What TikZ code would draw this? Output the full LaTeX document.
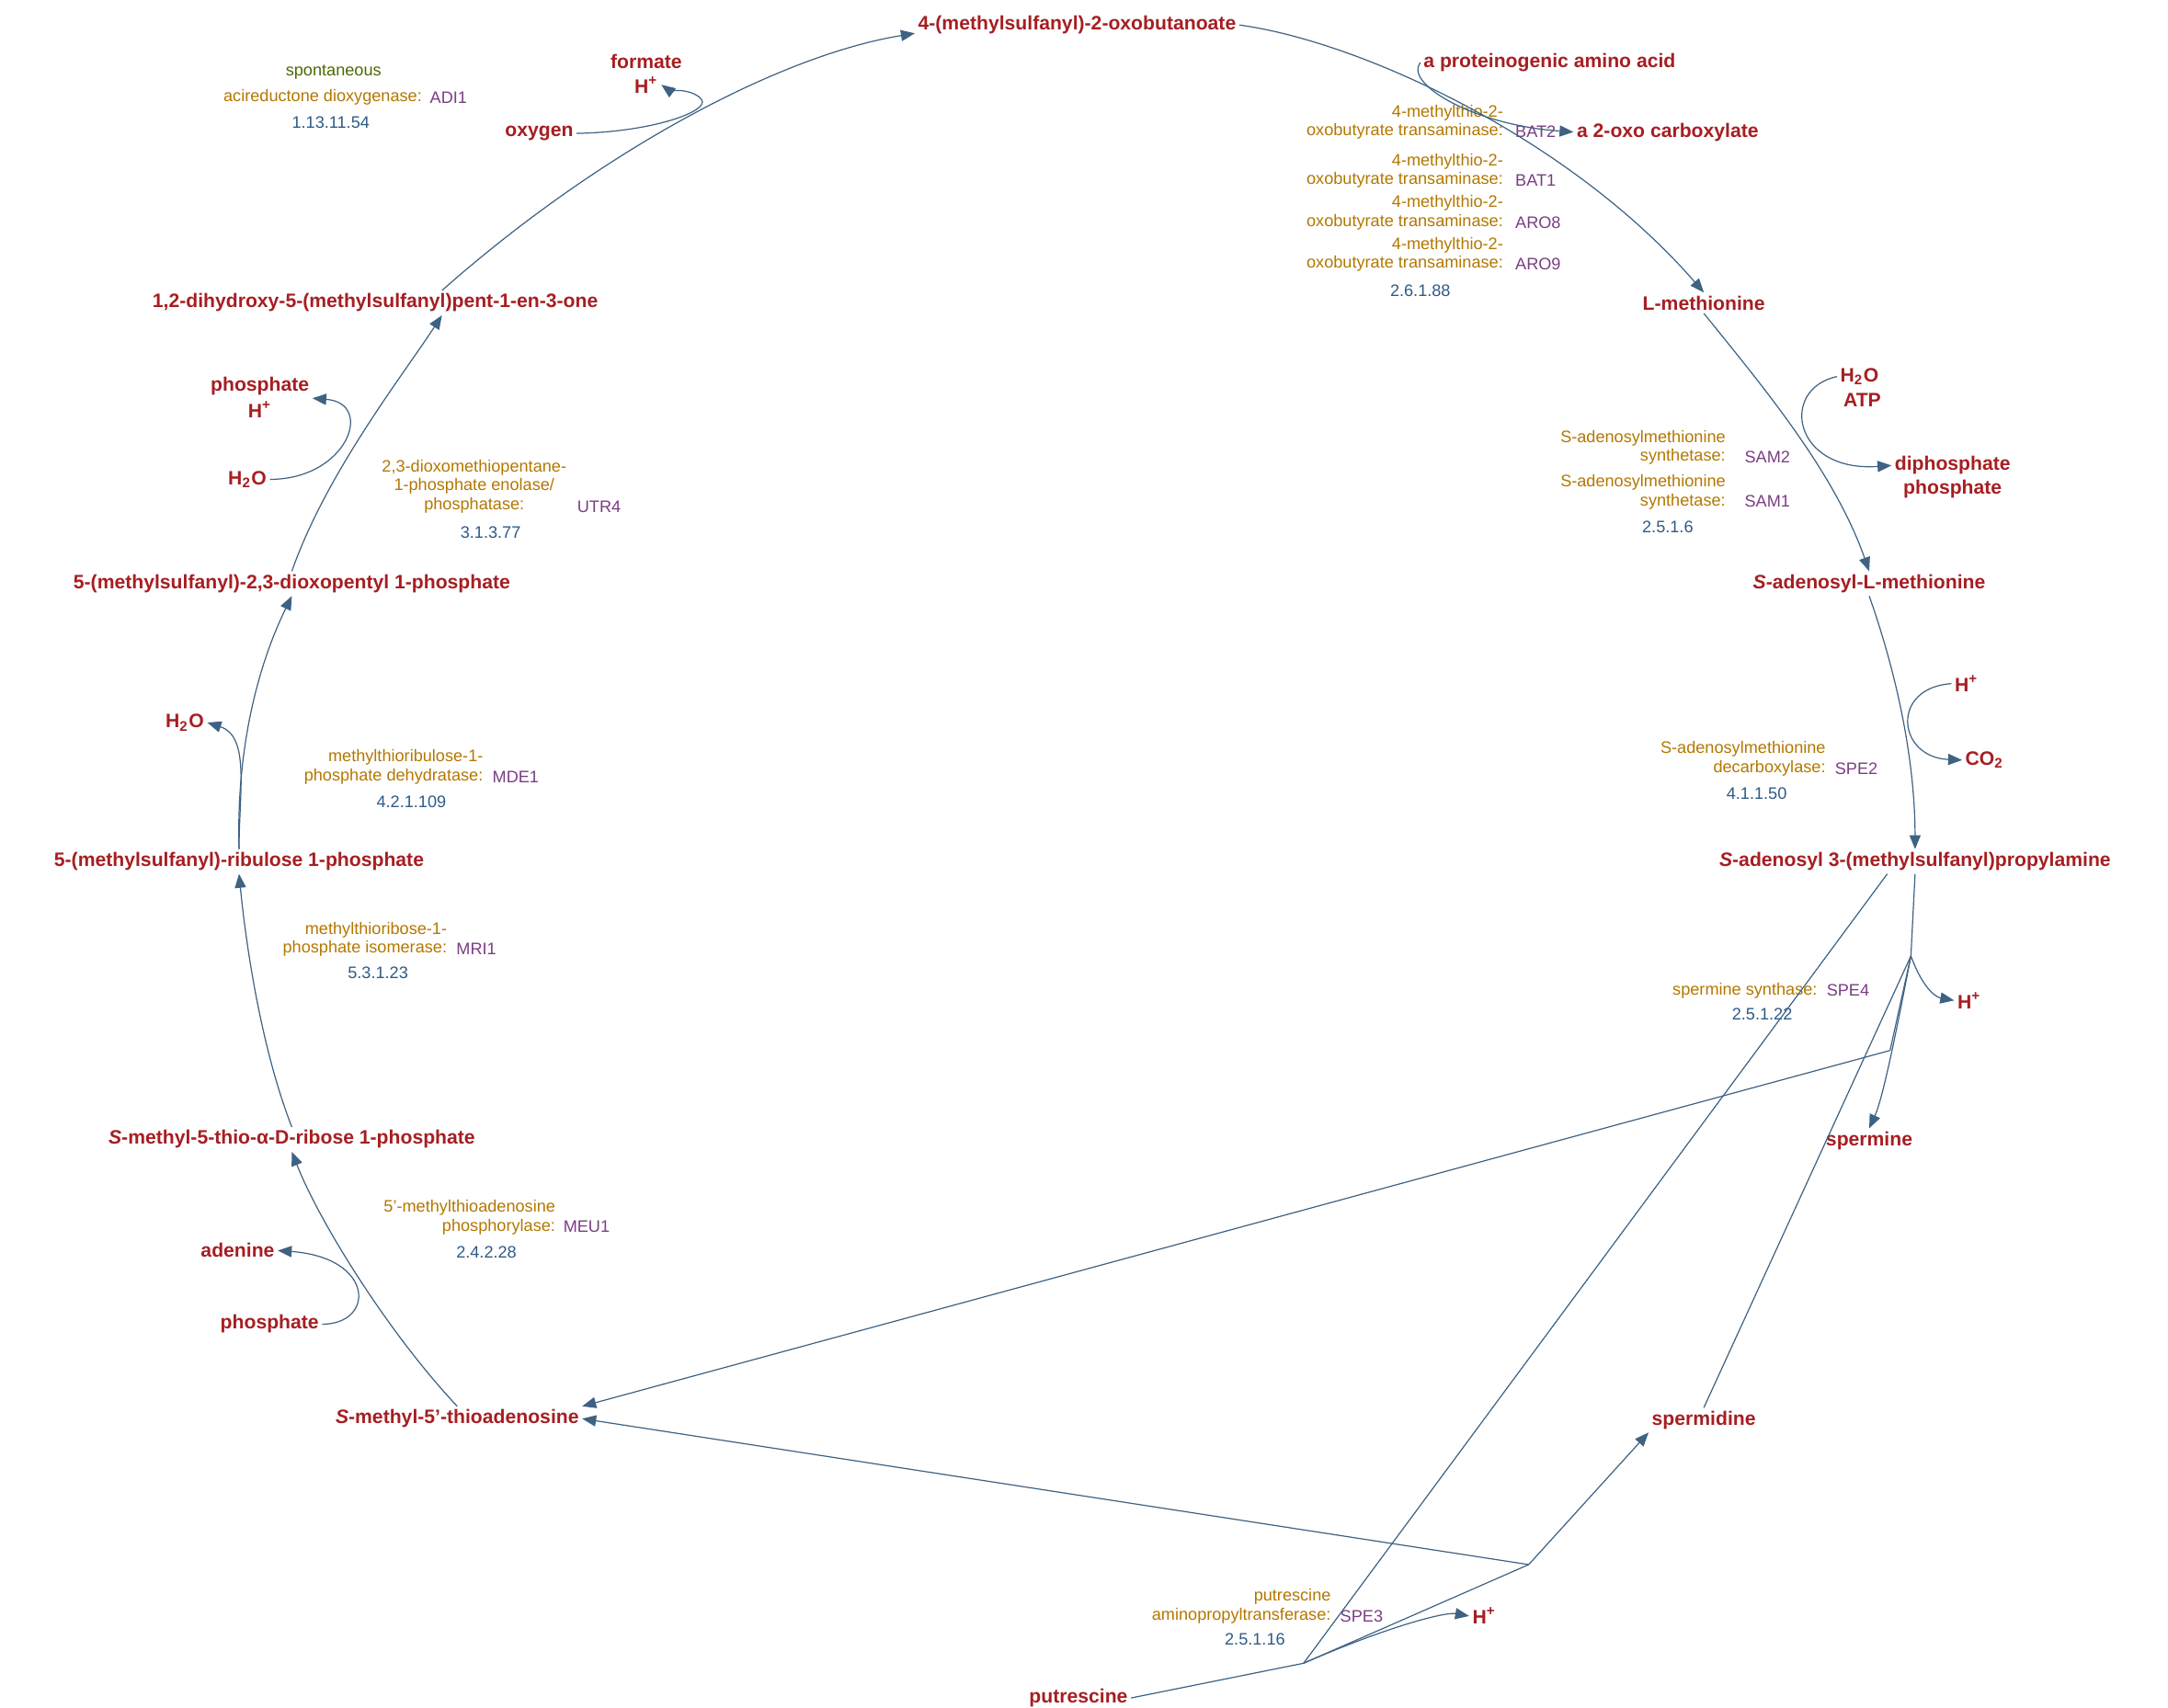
\documentclass[tikz,border=0pt]{standalone}
\usepackage{fontspec}
\setmainfont{Liberation Sans}
\usetikzlibrary{arrows.meta}
\definecolor{cpd}{HTML}{A61E22}
\definecolor{enz}{HTML}{B37700}
\definecolor{gene}{HTML}{7A3D84}
\definecolor{ec}{HTML}{2E5A85}
\definecolor{edge}{HTML}{3E6283}
\definecolor{spont}{HTML}{4A6A00}
\begin{document}
\begin{tikzpicture}[x=0.5pt,y=-0.5pt,
  c/.style={font=\bfseries\fontsize{7}{8}\selectfont,text=cpd,inner sep=1pt},
  e/.style={font=\fontsize{6}{6.8}\selectfont,text=enz,align=right,inner sep=0pt},
  g/.style={font=\fontsize{6}{6.8}\selectfont,text=gene,inner sep=0pt,anchor=west},
  n/.style={font=\fontsize{6}{6.8}\selectfont,text=ec,inner sep=0pt},
  r/.style={draw=edge,line width=0.4pt},
  a/.style={r,-{Triangle[length=5pt,width=4pt]}}]
\useasboundingbox (0,0) rectangle (1560,1229);
% compounds
\node[c] (mob) at (775,18) {4-(methylsulfanyl)-2-oxobutanoate};
\node[c] (aaa) at (1115,45) {a proteinogenic amino acid};
\node[c] (oxo) at (1200,95) {a 2-oxo carboxylate};
\node[c] (met) at (1226,218) {L-methionine};
\node[c] (h2oa) at (1338,271) {H\textsubscript{2}O};
\node[c] (atp) at (1340,288) {ATP};
\node[c] (dip) at (1405,335) {diphosphate};
\node[c] (pia) at (1405,352) {phosphate};
\node[c] (sam) at (1345,420) {\textit{S}-adenosyl-L-methionine};
\node[c] (hpb) at (1415,492) {H\textsuperscript{+}};
\node[c] (co2) at (1428,547) {CO\textsubscript{2}};
\node[c] (dsam) at (1378,620) {\textit{S}-adenosyl 3-(methylsulfanyl)propylamine};
\node[c] (hpc) at (1417,720) {H\textsuperscript{+}};
\node[c] (spm) at (1345,821) {spermine};
\node[c] (spd) at (1226,1022) {spermidine};
\node[c] (hpd) at (1068,1163) {H\textsuperscript{+}};
\node[c] (put) at (776,1222) {putrescine};
\node[c] (mta) at (329,1021) {\textit{S}-methyl-5'-thioadenosine};
\node[c] (ade) at (171,900) {adenine};
\node[c] (pib) at (194,953) {phosphate};
\node[c] (mtr) at (210,820) {\textit{S}-methyl-5-thio-α-D-ribose 1-phosphate};
\node[c] (mtru) at (172,620) {5-(methylsulfanyl)-ribulose 1-phosphate};
\node[c] (h2ob) at (133,520) {H\textsubscript{2}O};
\node[c] (dk) at (210,420) {5-(methylsulfanyl)-2,3-dioxopentyl 1-phosphate};
\node[c] (h2oc) at (178,345) {H\textsubscript{2}O};
\node[c] (pic) at (187,278) {phosphate};
\node[c] (hpe) at (187,295) {H\textsuperscript{+}};
\node[c] (dhk) at (270,218) {1,2-dihydroxy-5-(methylsulfanyl)pent-1-en-3-one};
\node[c] (oxy) at (388,96) {oxygen};
\node[c] (for) at (465,44) {formate};
\node[c] (hpf) at (465,61) {H\textsuperscript{+}};
\coordinate (pa) at (938,1197);
\coordinate (pb) at (1100,1126);
\coordinate (sa) at (1375,688);
\coordinate (sb) at (1360,756);
% enzymes
\node[text=spont,font=\fontsize{6}{6.8}\selectfont] (sp) at (240,52) {spontaneous};
\node[e,anchor=east] (e1) at (304,70) {acireductone dioxygenase:};
\node[g] (g1) at (309,70) {ADI1};
\node[n] (n1) at (238,88) {1.13.11.54};
\node[e,anchor=east] (e2) at (1082,88) {4-methylthio-2-\\oxobutyrate transaminase:};
\node[g] (g2) at (1090,95) {BAT2};
\node[e,anchor=east] (e3) at (1082,123) {4-methylthio-2-\\oxobutyrate transaminase:};
\node[g] (g3) at (1090,130) {BAT1};
\node[e,anchor=east] (e4) at (1082,153) {4-methylthio-2-\\oxobutyrate transaminase:};
\node[g] (g4) at (1090,160) {ARO8};
\node[e,anchor=east] (e5) at (1082,183) {4-methylthio-2-\\oxobutyrate transaminase:};
\node[g] (g5) at (1090,190) {ARO9};
\node[n] (n5) at (1022,209) {2.6.1.88};
\node[e,anchor=east] (e6) at (1242,322) {S-adenosylmethionine\\synthetase:};
\node[g] (g6) at (1255,329) {SAM2};
\node[e,anchor=east] (e7) at (1242,354) {S-adenosylmethionine\\synthetase:};
\node[g] (g7) at (1255,361) {SAM1};
\node[n] (n7) at (1200,379) {2.5.1.6};
\node[e,anchor=east] (e8) at (1314,546) {S-adenosylmethionine\\decarboxylase:};
\node[g] (g8) at (1320,553) {SPE2};
\node[n] (n8) at (1264,571) {4.1.1.50};
\node[e,anchor=east] (e9) at (1308,713) {spermine synthase:};
\node[g] (g9) at (1314,713) {SPE4};
\node[n] (n9) at (1268,730) {2.5.1.22};
\node[e,anchor=east] (e10) at (958,1156) {putrescine\\aminopropyltransferase:};
\node[g] (g10) at (964,1163) {SPE3};
\node[n] (n10) at (903,1180) {2.5.1.16};
\node[e,anchor=east] (e11) at (400,876) {5'-methylthioadenosine\\phosphorylase:};
\node[g] (g11) at (405,883) {MEU1};
\node[n] (n11) at (350,901) {2.4.2.28};
\node[e,anchor=east] (e12) at (322,676) {methylthioribose-1-\\phosphate isomerase:};
\node[g] (g12) at (328,683) {MRI1};
\node[n] (n12) at (272,700) {5.3.1.23};
\node[e,anchor=east] (e13) at (348,552) {methylthioribulose-1-\\phosphate dehydratase:};
\node[g] (g13) at (354,559) {MDE1};
\node[n] (n13) at (296,577) {4.2.1.109};
\node[e,anchor=east,align=center] (e14) at (408,350) {2,3-dioxomethiopentane-\\1-phosphate enolase/\\phosphatase:};
\node[g] (g14) at (415,365) {UTR4};
\node[n] (n14) at (353,383) {3.1.3.77};
% main cycle
\draw[a] (mob.east) .. controls (980,30) and (1130,100) .. (met.north);
\draw[a] (met.south) .. controls (1270,280) and (1320,340) .. (sam.north);
\draw[a] (sam.south) .. controls (1370,500) and (1378,560) .. (dsam.north);
\draw[a] (mta.north) .. controls (280,960) and (230,880) .. (mtr.south);
\draw[a] (mtr.north) .. controls (190,760) and (178,690) .. (mtru.south);
\draw[a] (mtru.north) .. controls (170,540) and (185,480) .. (dk.south);
\draw[a] (dk.north) .. controls (235,340) and (290,270) .. ([xshift=24pt]dhk.south);
\draw[a] ([xshift=24pt]dhk.north) .. controls (430,110) and (560,40) .. ([yshift=-3pt]mob.west);
% side curls
\draw[a] (oxy.east) .. controls (470,95) and (510,80) .. (505,72) .. controls (500,64) and (480,64) .. (hpf.east);
\draw[a] (aaa.west) .. controls (1010,60) and (1060,90) .. (oxo.west);
\draw[a] (h2oa.west) .. controls (1280,280) and (1290,340) .. (dip.west);
\draw[a] (hpb.west) .. controls (1360,495) and (1365,545) .. (co2.west);
\draw[a] (h2oc.east) .. controls (250,345) and (270,290) .. (pic.east|-hpe.north);
\draw[a] (pib.east) .. controls (270,953) and (270,905) .. (ade.east);
\draw[a] (mtru.north) .. controls (172,570) and (180,530) .. (h2ob.east);
% spermine synthase
\draw[r] (dsam.south) -- (sa);
\draw[r] (spd.north) -- (sa);
\draw[a] (sa) .. controls (1365,740) and (1355,790) .. (spm.north);
\draw[a] (sa) .. controls (1385,715) and (1395,718) .. (hpc.west);
\draw[r] (sa) -- (sb);
\draw[a] (sb) -- (mta.north east);
% spermidine synthase
\draw[r] (put.east) -- (pa);
\draw[r] ([xshift=-10pt]dsam.south) -- (pa);
\draw[r] (pa) -- (pb);
\draw[a] (pb) -- (spd.south west);
\draw[a] (pb) -- (mta.east);
\draw[a] (pa) .. controls (1000,1170) and (1040,1160) .. (hpd.west);
\end{tikzpicture}
\end{document}
